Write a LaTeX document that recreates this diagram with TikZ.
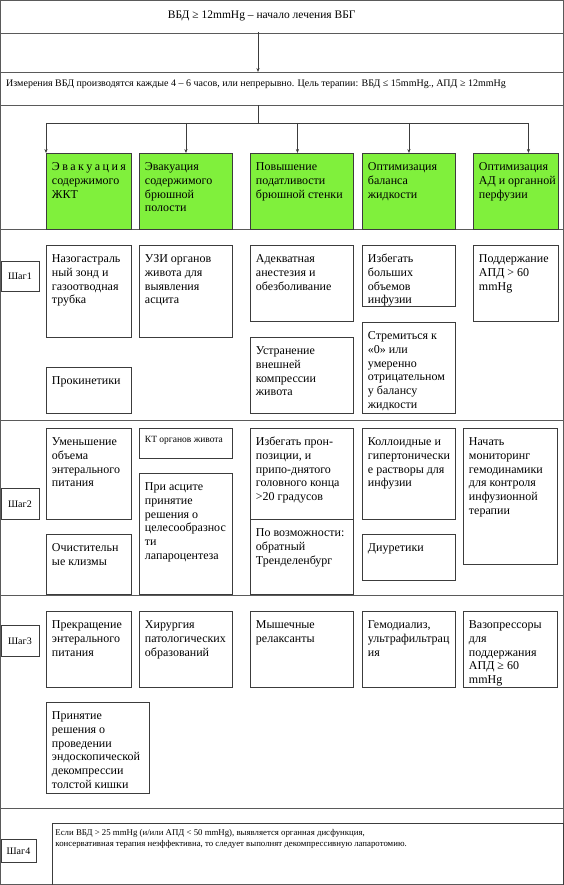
\documentclass[tikz,border=0pt]{standalone}
\usepackage{fontspec}
\setmainfont{Liberation Serif}
\usetikzlibrary{arrows.meta}
\definecolor{grn}{RGB}{128,240,60}
\definecolor{ln}{RGB}{60,60,60}
\definecolor{fr}{RGB}{90,90,90}
\tikzset{
  boxst/.style={draw=ln, line width=0.9pt, inner xsep=5.5pt, inner ysep=0pt,
    font=\fontsize{12}{13.7}\selectfont, anchor=north west},
  greenst/.style={boxst, fill=grn},
  stepst/.style={draw=ln, line width=0.9pt, inner sep=0pt, anchor=north west,
    font=\fontsize{10}{12}\selectfont},
  framest/.style={draw=fr, line width=0.9pt},
  arr/.style={draw=ln, line width=0.7pt, -{Stealth[length=4pt,width=3.2pt]}},
  conn/.style={draw=ln, line width=0.7pt}
}
% [style] name, x, ytop, w, h, text
\newcommand\bx[7][]{%
  \node[boxst,#1,minimum width=#5pt,minimum height=#6pt] (#2) at (#3,-#4)
   {\parbox[c][#6pt][t]{\dimexpr#5pt-11pt\relax}{\raggedright\rule{0pt}{17.3pt}#7}};}
\begin{document}
\begin{tikzpicture}[x=1pt,y=1pt]
\useasboundingbox (0,0) rectangle (564,-885);
% frame and row separators
\draw[framest] (0.5,-0.5) rectangle (563.5,-884.5);
\foreach \yy in {33,72,105,229,420,595,808}
  \draw[framest] (0.5,-\yy) -- (563.5,-\yy);
% header bands
\node[minimum width=522pt, minimum height=31pt, inner sep=0pt, anchor=north west,
  font=\fontsize{11.5}{13}\selectfont] (t1) at (0.5,-0.5) {ВБД ≥ 12mmHg – начало лечения ВБГ};
\node[minimum width=563pt, minimum height=33pt, inner xsep=5.5pt, inner ysep=0pt, anchor=north west,
  font=\fontsize{10}{12}\selectfont] (t2) at (0.5,-72)
  {\parbox[c][33pt][t]{552pt}{\rule{0pt}{14.5pt}Измерения ВБД производятся каждые 4 – 6 часов, или непрерывно. Цель терапии: ВБД ≤ 15mmHg., АПД ≥ 12mmHg}};
% green boxes
\bx[greenst]{g1}{46}{153}{85}{76}{\hbox to\linewidth{Э\hfill в\hfill а\hfill к\hfill у\hfill а\hfill ц\hfill и\hfill я}\\содержимого\\ЖКТ}
\bx[greenst]{g2}{139}{153}{93}{76}{Эвакуация\\содержимого\\брюшной\\полости}
\bx[greenst]{g3}{250}{153}{103}{76}{Повышение\\податливости\\брюшной стенки}
\bx[greenst]{g4}{362}{153}{93}{76}{Оптимизация\\баланса\\жидкости}
\bx[greenst]{g5}{473}{153}{85}{76}{Оптимизация\\\mbox{АД и органной}\\перфузии}
% connectors
\coordinate (sx) at (258,0);
\coordinate (bus) at (0,-123);
\draw[arr] (t1.south -| sx) -- (t2.north -| sx);
\coordinate (a1) at (g1.north west);
\coordinate (a2) at (g2.north);
\coordinate (a3) at ([xshift=-4.5pt]g3.north);
\coordinate (a4) at (g4.north);
\coordinate (a5) at ([xshift=12.5pt]g5.north);
\draw[conn] (t2.south -| sx) -- (sx |- bus);
\draw[conn] (a1 |- bus) -- (a5 |- bus);
\foreach \a in {a1,a2,a3,a4,a5} \draw[arr] (\a |- bus) -- (\a);
% step labels
\node[stepst, minimum width=38pt, minimum height=30pt] (s1) at (0.5,-261) {Шаг1};
\node[stepst, minimum width=38pt, minimum height=31pt] (s2) at (0.5,-488) {Шаг2};
\node[stepst, minimum width=38pt, minimum height=31pt] (s3) at (0.5,-625) {Шаг3};
\node[stepst, minimum width=35pt, minimum height=23pt] (s4) at (0.5,-839) {Шаг4};
% row 1
\bx{r1a}{46}{245}{85}{92}{Назогастраль\\ный зонд и\\газоотводная\\трубка}
\bx{r1b}{46}{367}{85}{46}{Прокинетики}
\bx{r1c}{139}{245}{93}{92}{УЗИ органов\\живота для\\выявления\\асцита}
\bx{r1d}{250}{245}{103}{76}{Адекватная\\анестезия и\\обезболивание}
\bx{r1e}{250}{337}{103}{76}{Устранение\\внешней\\компрессии\\живота}
\bx{r1f}{362}{245}{93}{61}{Избегать\\больших\\объемов\\инфузии}
\bx{r1g}{362}{322}{93}{91}{Стремиться к\\«0» или\\умеренно\\отрицательном\\у балансу\\жидкости}
\bx{r1h}{473}{245}{85}{76}{Поддержание\\АПД > 60\\mmHg}
% row 2
\bx{r2a}{46}{428}{85}{91}{Уменьшение\\объема\\энтерального\\питания}
\bx{r2b}{46}{534}{85}{60}{Очистительн\\ые клизмы}
\node[boxst, minimum width=93pt, minimum height=30pt, font=\fontsize{9.5}{11}\selectfont] (r2c) at (139,-428)
  {\parbox[c][30pt][t]{82pt}{\rule{0pt}{14pt}КТ органов живота}};
\bx{r2d}{139}{473}{93}{121}{При асците\\принятие\\решения о\\целесообразнос\\ти\\лапароцентеза}
\bx{r2e}{250}{428}{103}{91}{Избегать прон-\\позиции, и\\припо-днятого\\головного конца\\>20 градусов}
\bx{r2f}{250}{519}{103}{75}{По возможности:\\обратный\\Тренделенбург}
\bx{r2g}{362}{428}{93}{91}{Коллоидные и\\гипертонически\\е растворы для\\инфузии}
\bx{r2h}{362}{534}{93}{46}{Диуретики}
\bx{r2i}{463}{428}{94}{136}{Начать\\мониторинг\\гемодинамики\\для контроля\\инфузионной\\терапии}
% row 3
\bx{r3a}{46}{611}{85}{76}{Прекращение\\энтерального\\питания}
\bx{r3b}{139}{611}{93}{76}{Хирургия\\патологических\\образований}
\bx{r3c}{250}{611}{103}{76}{Мышечные\\релаксанты}
\bx{r3d}{362}{611}{93}{76}{Гемодиализ,\\ультрафильтрац\\ия}
\bx{r3e}{463}{611}{94}{76}{Вазопрессоры\\для\\поддержания\\АПД ≥ 60\\mmHg}
\bx{r3f}{46}{702}{103}{91}{Принятие\\решения о\\проведении\\эндоскопической\\декомпрессии\\толстой кишки}
% row 4
\node[boxst, minimum width=511pt, minimum height=62pt, inner xsep=3pt, font=\fontsize{8.8}{11}\selectfont] (r4) at (52,-823)
  {\parbox[c][62pt][t]{505pt}{\rule{0pt}{12pt}Если ВБД > 25 mmHg (и/или АПД < 50 mmHg), выявляется органная дисфункция,\\консервативная терапия неэффективна, то следует выполнят декомпрессивную лапаротомию.}};
\end{tikzpicture}
\end{document}
